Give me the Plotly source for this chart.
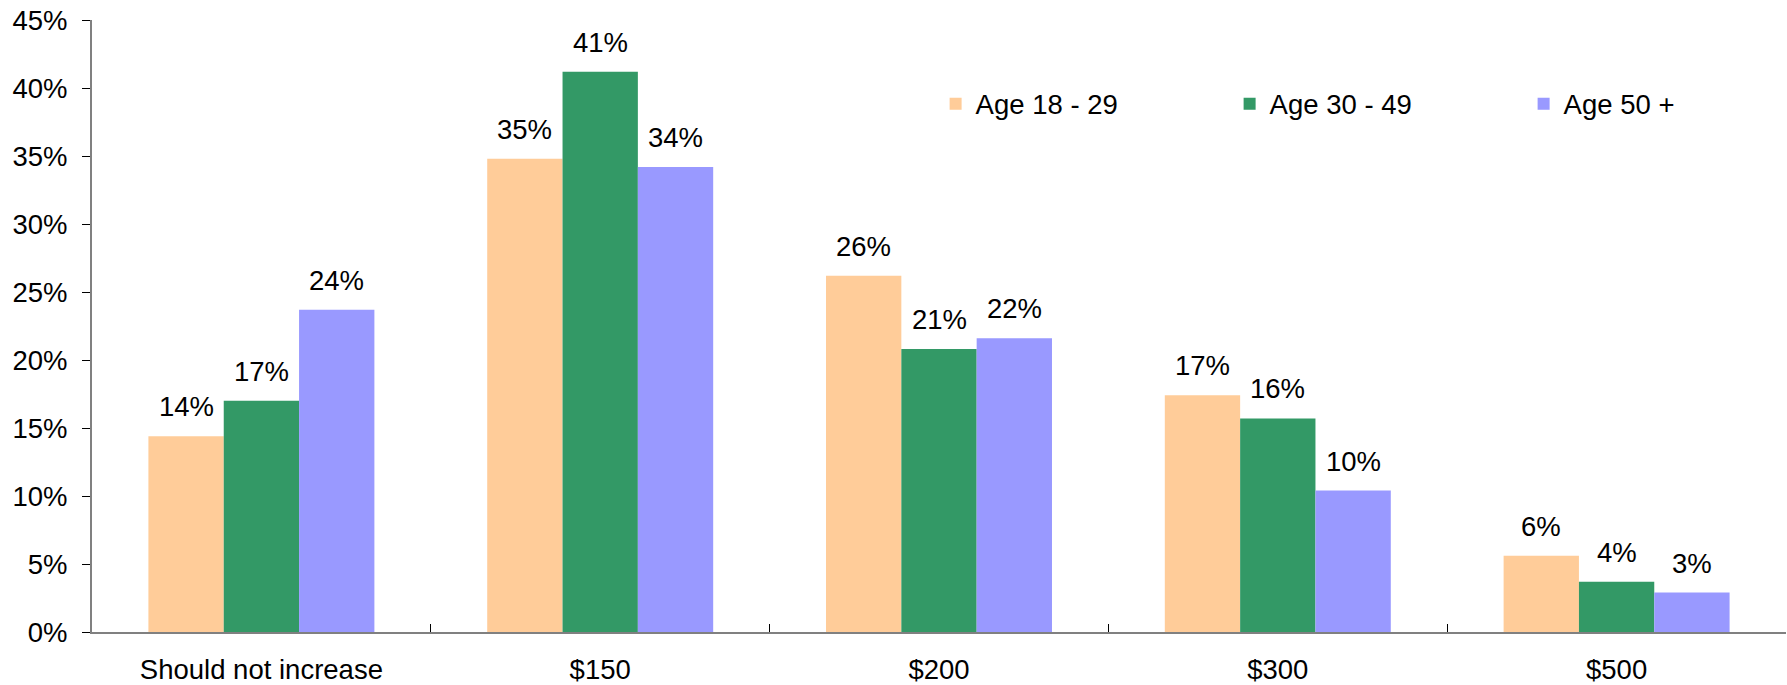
import plotly.graph_objects as go

categories = ["Should not increase", "$150", "$200", "$300", "$500"]
series_names = ["Age 18 - 29", "Age 30 - 49", "Age 50 +"]
age_18_29 = [14.4, 34.8, 26.2, 17.4, 5.6]
age_30_49 = [17.0, 41.2, 20.8, 15.7, 3.7]
age_50_plus = [23.7, 34.2, 21.6, 10.4, 2.9]
colors = ["#FFCC99", "#339966", "#9999FF"]
y_ticks = [0, 5, 10, 15, 20, 25, 30, 35, 40, 45]
y_tick_labels = [f"{v}%" for v in y_ticks]

FONT = "Liberation Sans, Arial, sans-serif"
FS = 27.5
BARGAP = 0.333

series = [age_18_29, age_30_49, age_50_plus]
fig = go.Figure()
for name, vals, col in zip(series_names, series, colors):
    fig.add_trace(go.Bar(
        x=categories, y=vals, name=name,
        marker=dict(color=col, line=dict(width=0)),
        cliponaxis=False,
    ))

# value labels above each bar (placed in data coordinates of the category axis)
n = len(series)
w = (1 - BARGAP) / n
annotations = []
for k, vals in enumerate(series):
    for i, v in enumerate(vals):
        annotations.append(dict(
            x=i + (k - (n - 1) / 2) * w, y=v, xref="x", yref="y",
            text=f"{v:.0f}%", showarrow=False, yanchor="bottom", xanchor="center",
            yshift=12, font=dict(family=FONT, size=FS, color="black"),
        ))

fig.update_layout(
    width=1787, height=685,
    margin=dict(l=92, r=1, t=20, b=53, autoexpand=False),
    paper_bgcolor="white", plot_bgcolor="white",
    barmode="group", bargap=BARGAP, bargroupgap=0,
    font=dict(family=FONT, size=FS, color="black"),
    showlegend=True,
    annotations=annotations,
    legend=dict(
        orientation="h", x=0.498, y=0.863, xanchor="left", yanchor="middle",
        font=dict(family=FONT, size=FS, color="black"),
        entrywidth=249, entrywidthmode="pixels",
        bgcolor="rgba(0,0,0,0)", itemsizing="constant",
    ),
    xaxis=dict(
        showline=True, linecolor="#808080", linewidth=2,
        ticks="inside", tickson="boundaries", ticklen=8, tickcolor="black", tickwidth=1,
        showgrid=False, ticklabelstandoff=12, automargin=False,
    ),
    yaxis=dict(
        range=[0, 45], tickmode="array", tickvals=y_ticks, ticktext=y_tick_labels,
        showline=True, linecolor="#808080", linewidth=2,
        ticks="outside", ticklen=8, tickcolor="black", tickwidth=1,
        showgrid=False, zeroline=False, ticklabelstandoff=9, automargin=False,
    ),
)

fig.write_html("out.html", config={"displayModeBar": False},
               post_script="document.body.style.margin='0';document.body.style.overflow='hidden';")
